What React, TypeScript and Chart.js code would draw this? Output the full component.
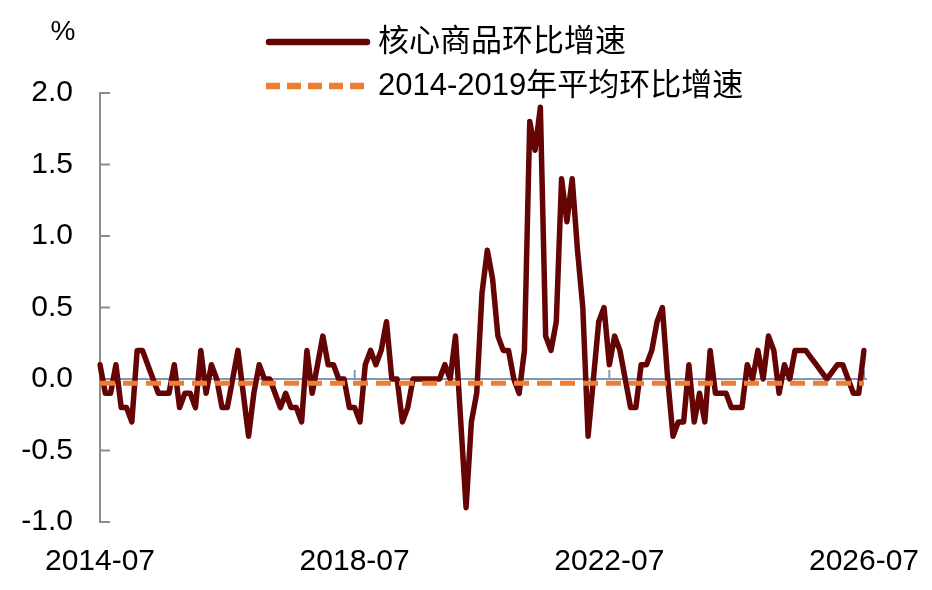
import React, { useEffect, useRef } from "react";
import { Chart, registerables } from "chart.js";

Chart.register(...registerables);

const FONT = "'Liberation Sans', Arial, 'Noto Sans CJK SC', sans-serif";
Chart.defaults.font.family = FONT;
Chart.defaults.color = "#000";

// monthly categories, 2014-07 .. 2026-07
const START_YEAR = 2014;
const START_MONTH = 7;
const MONTH_COUNT = 145;
const categories: string[] = [];
for (let i = 0; i < MONTH_COUNT; i++) {
  const m = START_MONTH - 1 + i;
  const yr = START_YEAR + Math.floor(m / 12);
  categories.push(`${yr}-${String((m % 12) + 1).padStart(2, "0")}`);
}

const xTickLabels = ["2014-07", "2018-07", "2022-07", "2026-07"];

const Y_MIN = -1;
const Y_MAX = 2;
const Y_STEP = 0.5;

// 核心商品环比增速 (%)
const coreGoodsMoM = [
  0.1, -0.1, -0.1, 0.1, -0.2, -0.2, -0.3, 0.2, 0.2, 0.1,
  0.0, -0.1, -0.1, -0.1, 0.1, -0.2, -0.1, -0.1, -0.2, 0.2,
  -0.1, 0.1, 0.0, -0.2, -0.2, 0.0, 0.2, -0.1, -0.4, -0.1,
  0.1, 0.0, 0.0, -0.1, -0.2, -0.1, -0.2, -0.2, -0.3, 0.2,
  -0.1, 0.1, 0.3, 0.1, 0.1, 0.0, 0.0, -0.2, -0.2, -0.3,
  0.1, 0.2, 0.1, 0.2, 0.4, 0.0, 0.0, -0.3, -0.2, 0.0,
  0.0, 0.0, 0.0, 0.0, 0.0, 0.1, 0.0, 0.3, -0.3, -0.9,
  -0.3, -0.1, 0.6, 0.9, 0.7, 0.3, 0.2, 0.2, 0.0, -0.1,
  0.2, 1.8, 1.6, 1.9, 0.3, 0.2, 0.4, 1.4, 1.1, 1.4,
  0.9, 0.5, -0.4, 0.0, 0.4, 0.5, 0.1, 0.3, 0.2, 0.0,
  -0.2, -0.2, 0.1, 0.1, 0.2, 0.4, 0.5, 0.0, -0.4, -0.3,
  -0.3, 0.1, -0.3, -0.1, -0.3, 0.2, -0.1, -0.1, -0.1, -0.2,
  -0.2, -0.2, 0.1, 0.0, 0.2, 0.0, 0.3, 0.2, -0.1, 0.1,
  0.0, 0.2, 0.2, 0.2, 0.15, 0.1, 0.05, 0.0, 0.05, 0.1,
  0.1, 0.0, -0.1, -0.1, 0.2,
];

// 2014-2019年平均环比增速 (%)
const avgMoM2014to2019 = -0.03;

const MAROON = "#640404";
const ORANGE = "#ed7d31";
const ZERO_COLOR = "#8496b0";
const AXIS_COLOR = "#8c8c8c";

const axisPlugin = {
  id: "axisLines",
  beforeDatasetsDraw(chart: any) {
    const { ctx, chartArea, scales } = chart;
    const xs = scales.x;
    const ys = scales.y;
    const y0 = ys.getPixelForValue(0);
    const seg = (x1: number, y1: number, x2: number, y2: number) => {
      ctx.beginPath();
      ctx.moveTo(x1, y1);
      ctx.lineTo(x2, y2);
      ctx.stroke();
    };
    ctx.save();
    ctx.lineWidth = 2;
    ctx.strokeStyle = ZERO_COLOR;
    seg(chartArea.left, y0, chartArea.right + 3, y0);
    xTickLabels.forEach((lab) => {
      const i = categories.indexOf(lab);
      if (i > 0) {
        const px = xs.getPixelForValue(i);
        seg(px, y0, px, y0 - 9);
      }
    });
    ctx.strokeStyle = AXIS_COLOR;
    seg(chartArea.left, ys.getPixelForValue(Y_MAX) - 1, chartArea.left, ys.getPixelForValue(Y_MIN) + 1);
    ys.ticks.forEach((t: any) => {
      const py = ys.getPixelForValue(t.value);
      seg(chartArea.left, py, chartArea.left + 10, py);
    });
    ctx.restore();
  },
};

const legendPlugin = {
  id: "customLegend",
  afterDraw(chart: any) {
    const { ctx } = chart;
    ctx.save();
    ctx.font = `31px ${FONT}`;
    ctx.fillStyle = "#000";
    ctx.textBaseline = "middle";
    ctx.textAlign = "left";
    chart.data.datasets.forEach((ds: any, i: number) => {
      const y = 42 + i * 44;
      ctx.strokeStyle = ds.borderColor;
      ctx.lineWidth = 6.5;
      ctx.lineCap = ds.borderDash ? "butt" : "round";
      ctx.setLineDash(ds.borderDash ? [14, 7] : []);
      ctx.beginPath();
      ctx.moveTo(ds.borderDash ? 266 : 269, y);
      ctx.lineTo(367, y);
      ctx.stroke();
      ctx.setLineDash([]);
      ctx.fillText(ds.label, 378, y);
    });
    ctx.font = `28px ${FONT}`;
    ctx.textAlign = "center";
    ctx.fillText("%", 63, 32);
    ctx.restore();
  },
};

export default function App() {
  const canvasRef = useRef<HTMLCanvasElement>(null);

  useEffect(() => {
    const canvas = canvasRef.current;
    if (!canvas) return;

    const chart = new Chart(canvas, {
      type: "line",
      data: {
        labels: categories,
        datasets: [
          {
            label: "核心商品环比增速",
            data: coreGoodsMoM,
            borderColor: MAROON,
            borderWidth: 5.5,
            pointRadius: 0,
            tension: 0,
            borderJoinStyle: "round",
            borderCapStyle: "round",
            order: 1,
          },
          {
            label: "2014-2019年平均环比增速",
            data: categories.map(() => avgMoM2014to2019),
            borderColor: ORANGE,
            borderWidth: 5,
            borderDash: [15, 8],
            pointRadius: 0,
            tension: 0,
            order: 0,
          },
        ],
      },
      options: {
        responsive: false,
        animation: false,
        layout: { padding: { top: 93, right: 68, bottom: 0, left: 0 } },
        plugins: {
          legend: { display: false },
          tooltip: { enabled: false },
        },
        scales: {
          x: {
            type: "category",
            offset: false,
            grid: { display: false, drawTicks: false },
            border: { display: false },
            ticks: {
              autoSkip: false,
              maxRotation: 0,
              padding: 22,
              font: { size: 30 },
              color: "#000",
              callback: (_v: any, i: number) =>
                xTickLabels.includes(categories[i]) ? categories[i] : null,
            },
            afterFit: (s: any) => {
              s.height = 68;
              s.paddingLeft = 0;
              s.paddingRight = 0;
            },
          },
          y: {
            min: Y_MIN,
            max: Y_MAX,
            grid: { display: false, drawTicks: false },
            border: { display: false },
            ticks: {
              stepSize: Y_STEP,
              padding: 27,
              font: { size: 30 },
              color: "#000",
              callback: (v: any) => Number(v).toFixed(1),
            },
            afterFit: (s: any) => {
              s.width = 100;
              s.paddingTop = 0;
              s.paddingBottom = 0;
            },
          },
        },
      },
      plugins: [axisPlugin, legendPlugin],
    });

    return () => chart.destroy();
  }, []);

  return (
    <div style={{ position: "fixed", left: 0, top: 0, width: 932, height: 590, background: "#fff" }}>
      <canvas ref={canvasRef} width={932} height={590} />
    </div>
  );
}
